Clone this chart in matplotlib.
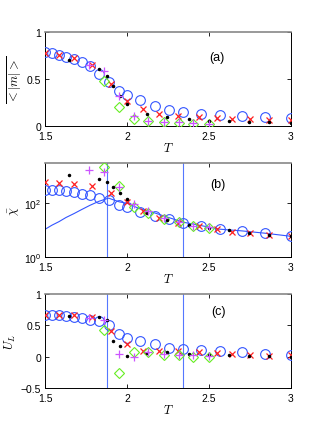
import numpy as np
import matplotlib
matplotlib.use("Agg")
import matplotlib.pyplot as plt
from matplotlib.ticker import NullLocator, FixedLocator

plt.rcParams['font.family'] = ['Liberation Sans', 'DejaVu Sans']
plt.rcParams['mathtext.fontset'] = 'cm'

# temperature grids of the different runs
T_circ = [1.50, 1.541, 1.584, 1.627, 1.676, 1.722, 1.773, 1.828, 1.887, 1.952,
          2.003, 2.079, 2.171, 2.254, 2.344, 2.452, 2.568, 2.703, 2.843, 3.0]
T_x = [1.50, 1.584, 1.675, 1.784, 1.902, 2.0, 2.099, 2.197, 2.313, 2.44,
       2.548, 2.643, 2.755, 2.869, 3.0]
T_dot = [1.647, 1.828, 1.877, 1.916, 1.96, 2.0, 2.122, 2.246, 2.38, 2.5,
         2.625, 2.747, 2.866, 3.0]
T_plus = [1.769, 1.861, 1.952, 2.044, 2.126, 2.228, 2.32, 2.405, 2.5]
T_diam = [1.861, 1.952, 2.044, 2.13, 2.228, 2.32, 2.405, 2.5]

# (a) <|m|>
m_circ = [0.787, 0.779, 0.758, 0.733, 0.709, 0.680, 0.637, 0.555, 0.466, 0.367,
          0.331, 0.271, 0.207, 0.171, 0.146, 0.128, 0.111, 0.10, 0.093, 0.085]
m_x = [0.776, 0.757, 0.722, 0.651, 0.441, 0.263, 0.181, 0.128, 0.11, 0.09,
       0.085, 0.075, 0.07, 0.06, 0.06]
m_dot = [0.698, 0.608, 0.527, 0.42, 0.32, 0.228, 0.122, 0.09, 0.075, 0.05,
         0.05, 0.04, 0.04, 0.032]
m_plus = [0.65, 0.58, 0.32, 0.10, 0.05, 0.043, 0.036, 0.03, 0.02]
m_diam = [0.48, 0.20, 0.07, 0.05, 0.036, 0.03, 0.025, 0.015]

# (b) chi
chi_circ = [330, 320, 316, 295, 270, 234, 204, 166, 138, 87,
            71, 49, 33, 26, 18, 15, 11, 9.8, 7.8, 6.0]
chi_line = [11, 15.5, 21, 30, 42, 59, 85, 120, 158, 115,
            100, 63, 44, 30, 20, 15, 11, 9.5, 7.8, 6.0]
chi_x = [630, 600, 550, 450, 235, 110, 53, 28, 19, 14,
         11.2, 8.9, 7.7, 6.7, 6.0]
chi_dot = [1120, 790, 630, 410, 240, 145, 45, 24, 16, 12.5,
           10, 7.8, 6.6, 6.0]
chi_plus = [1700, 1480, 425, 95, 54, 29, 20, 15, 13]
chi_diam = [2340, 450, 71, 46, 26, 20, 15, 12.6]

# (c) Binder cumulant
U_circ = [0.666, 0.666, 0.666, 0.655, 0.63, 0.614, 0.592, 0.566, 0.50, 0.36,
          0.29, 0.25, 0.194, 0.13, 0.12, 0.10, 0.09, 0.07, 0.05, 0.03]
U_x = [0.67, 0.67, 0.67, 0.63, 0.41, 0.205, 0.09, 0.09, 0.09, 0.08,
       0.06, 0.035, 0.02, 0.01, 0.03]
U_dot = [0.645, 0.64, 0.59, 0.25, 0.17, 0.003, 0.06, 0.067, 0.046, 0.03,
         0.02, 0.015, 0.015, 0.0]
U_plus = [0.62, 0.58, 0.05, 0.0, 0.07, 0.05, 0.03, 0.02, 0.015]
U_diam = [0.42, -0.26, 0.07, 0.08, 0.03, 0.02, 0.0, -0.01]

T_vlines = [1.879, 2.34]

blue = '#3355ff'
vline_blue = '#5577ff'
red = '#ff2020'
green = '#66ee22'
magenta = '#cc55ff'

fig = plt.figure(figsize=(3.21, 4.39), dpi=100)
left, width, height = 0.141, 0.764, 0.214
ax_a = fig.add_axes([left, 0.711, width, height])
ax_b = fig.add_axes([left, 0.412, width, height])
ax_c = fig.add_axes([left, 0.114, width, height])


def draw_points(ax, yc, yx, yd, yp, yg):
    ax.plot(T_circ, yc, 'o', mfc='none', mec=blue, ms=7, mew=0.8, zorder=3)
    ax.plot(T_x, yx, 'x', color=red, ms=4.5, mew=0.9, zorder=4)
    ax.plot(T_dot, yd, '.', color='k', ms=3, zorder=5)
    ax.plot(T_diam, yg, 'D', mfc='none', mec=green, ms=5.5, mew=0.8, zorder=4)
    ax.plot(T_plus, yp, '+', color=magenta, ms=6, mew=0.9, zorder=6)


def style(ax):
    ax.set_xlim(1.5, 3)
    ax.set_xticks([1.5, 2, 2.5, 3])
    ax.set_xticklabels(['1.5', '2', '2.5', '3'])
    ax.tick_params(direction='in', top=True, right=True, length=3,
                   width=0.6, labelsize=7.5)
    ax.tick_params(axis='x', pad=3.5)
    ax.tick_params(axis='y', pad=3)
    for s in ax.spines.values():
        s.set_linewidth(0.7)
    ax.spines['top'].set_color('#888888')
    ax.spines['top'].set_linewidth(1.2)
    ax.set_xlabel(r'$T$', fontsize=9, labelpad=0)


# panel a
draw_points(ax_a, m_circ, m_x, m_dot, m_plus, m_diam)
ax_a.set_ylim(0, 1)
ax_a.set_yticks([0, 0.5, 1])
ax_a.set_yticklabels(['0', '0.5', '1'])
style(ax_a)
ax_a.set_ylabel(r'$\overline{<|m|>}$', fontsize=9, labelpad=2)
ax_a.text(0.70, 0.73, '(a)', transform=ax_a.transAxes, fontsize=9,
          ha='center', va='center')

# panel b
ax_b.plot(T_circ, chi_line, '-', color=blue, lw=0.8, zorder=2)
draw_points(ax_b, chi_circ, chi_x, chi_dot, chi_plus, chi_diam)
for tv in T_vlines:
    ax_b.axvline(tv, color=vline_blue, lw=0.8, zorder=1)
ax_b.set_yscale('log')
ax_b.set_ylim(1, 10 ** 3.5)
ax_b.yaxis.set_major_locator(FixedLocator([1, 100]))
ax_b.yaxis.set_minor_locator(NullLocator())
ax_b.set_yticklabels([r'$\mathdefault{10^{0}}$', r'$\mathdefault{10^{2}}$'])
style(ax_b)
ax_b.set_ylabel(r'$\bar{\chi}$', fontsize=9, labelpad=2)
ax_b.text(0.705, 0.78, '(b)', transform=ax_b.transAxes, fontsize=9,
          ha='center', va='center')

# panel c
draw_points(ax_c, U_circ, U_x, U_dot, U_plus, U_diam)
for tv in T_vlines:
    ax_c.axvline(tv, color=vline_blue, lw=0.8, zorder=1)
ax_c.set_ylim(-0.5, 1)
ax_c.set_yticks([-0.5, 0, 0.5, 1])
ax_c.set_yticklabels(['\u22120.5', '0', '0.5', '1'])
style(ax_c)
ax_c.set_ylabel(r'$U_L$', fontsize=9, labelpad=2)
ax_c.text(0.705, 0.82, '(c)', transform=ax_c.transAxes, fontsize=9,
          ha='center', va='center')

fig.savefig('out.png', dpi=100)
